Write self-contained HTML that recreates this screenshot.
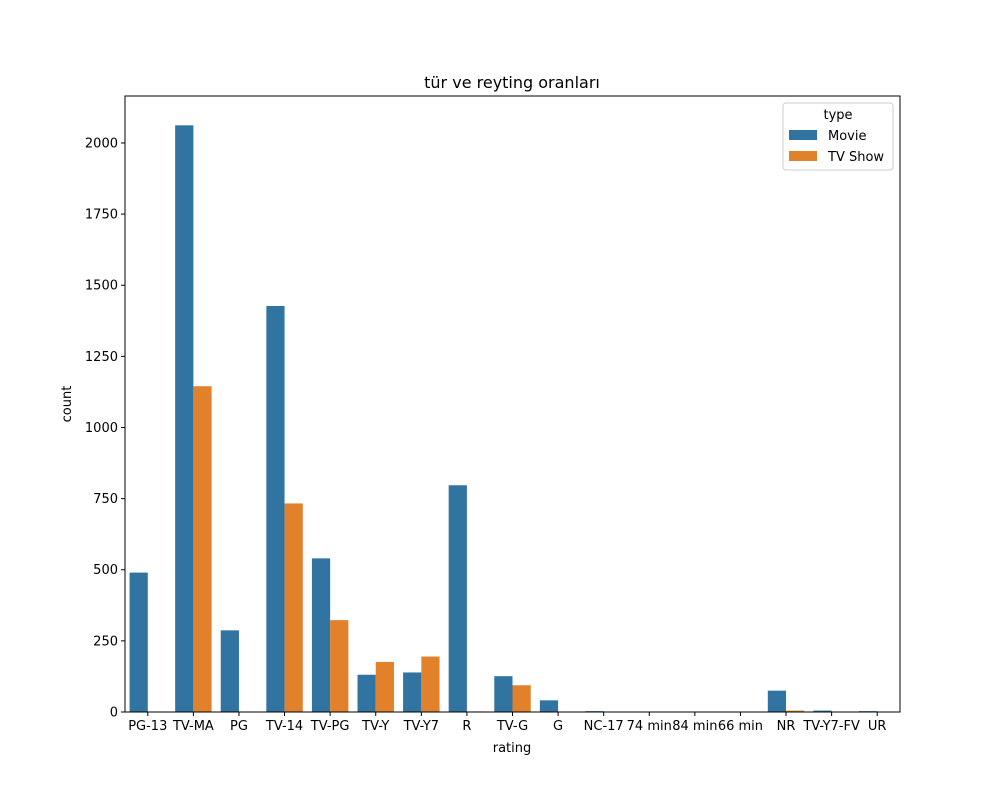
<!DOCTYPE html>
<html><head><meta charset="utf-8"><style>
body{margin:0;background:#fff;font-family:"Liberation Sans","DejaVu Sans",sans-serif;}
svg text{font-family:"DejaVu Sans","Liberation Sans",sans-serif;}
</style></head><body>
<svg id="chart" width="1000" height="800" xmlns="http://www.w3.org/2000/svg">
<rect width="1000" height="800" fill="#fff"/>
<text x="512" y="88" font-size="16" text-anchor="middle">tür ve reyting oranları</text>
<g id="bars"></g>
<g id="axes"></g>
<rect x="125" y="96" width="775" height="616" fill="none" stroke="#000" stroke-width="1"/>
<text x="512" y="752" font-size="13" text-anchor="middle">rating</text>
<text x="71" y="404" font-size="13" text-anchor="middle" transform="rotate(-90 71 404)">count</text>
<g>
<rect x="783" y="103" width="110" height="67" rx="3" fill="#fff" stroke="#ccc"/>
<text x="838" y="119" font-size="13" text-anchor="middle">type</text>
<rect x="789" y="130" width="28" height="10" fill="#3274a1"/>
<text x="828" y="140" font-size="13">Movie</text>
<rect x="789" y="151" width="28" height="10" fill="#e1812c"/>
<text x="828" y="161" font-size="13">TV Show</text>
</g>
</svg>
<script>
const categories=["PG-13","TV-MA","PG","TV-14","TV-PG","TV-Y","TV-Y7","R","TV-G","G","NC-17","74 min","84 min","66 min","NR","TV-Y7-FV","UR"];
const movieValues=[490,2062,287,1427,540,131,139,797,126,41,3,1,1,1,75,5,3];
const tvValues=[0,1145,0,733,323,176,195,2,94,0,0,0,0,0,5,1,0];
const yTicks=[0,250,500,750,1000,1250,1500,1750,2000];
const ns="http://www.w3.org/2000/svg";
const X0=125,X1=900,Y0=712,Y1=96;
const yMax=Math.max(...movieValues,...tvValues)*1.05;
const bw=(X1-X0)/categories.length;
function xc(i){return X0+bw*(i+0.5);}
function y(v){return Y0-(v/yMax)*(Y0-Y1);}
const bars=document.getElementById('bars'),axes=document.getElementById('axes');
function mk(t,a,p){const e=document.createElementNS(ns,t);for(const k in a)e.setAttribute(k,a[k]);p.appendChild(e);return e;}
categories.forEach((c,i)=>{
  [[movieValues,'#3274a1',-1,'movie'],[tvValues,'#e1812c',0,'tv-show']].forEach(([arr,col,off,nm])=>{
    const v=arr[i];if(!v)return;
    const r=mk('rect',{x:xc(i)+off*bw*0.4,y:y(v),width:bw*0.4,height:Y0-y(v),fill:col},bars);
    
    
  });
  const t=mk('line',{x1:xc(i),x2:xc(i),y1:Y0,y2:Y0+4,stroke:'#000'},axes);
  
  
  const l=mk('text',{x:xc(i),y:Y0+18,'font-size':13,'text-anchor':'middle'},axes);
  l.textContent=c;
  
  
});
yTicks.forEach(v=>{
  const t=mk('line',{x1:X0-4,x2:X0,y1:y(v),y2:y(v),stroke:'#000'},axes);
  
  
  const l=mk('text',{x:X0-7,y:y(v)+4.5,'font-size':13,'text-anchor':'end'},axes);
  l.textContent=v;
  
  
});
</script>
</body></html>
